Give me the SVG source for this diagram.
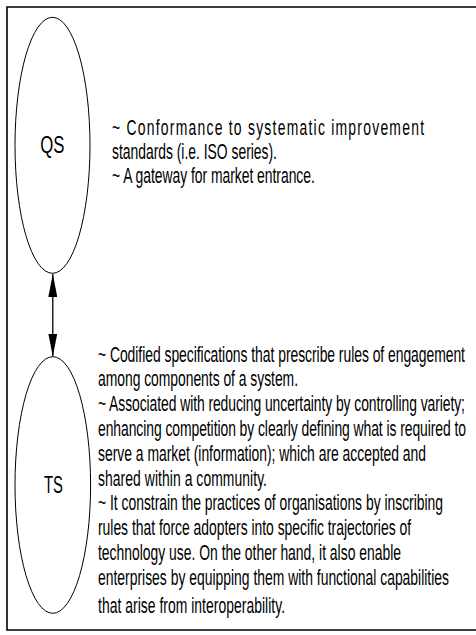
<svg xmlns="http://www.w3.org/2000/svg" width="476" height="635" viewBox="0 0 476 635">
  <style>
    .frame { fill: none; stroke: #000; stroke-width: 1.6; }
    .node { fill: #fff; stroke: #000; stroke-width: 1; }
    .label { font-family: "Liberation Sans", Arial, sans-serif; font-size: 24px; fill: #000; text-anchor: middle; }
    .body { font-family: "Liberation Sans", Arial, sans-serif; font-size: 22px; fill: #000; }
    .link { stroke: #000; stroke-width: 1.3; fill: none; }
  </style>
  <defs>
    <marker id="head" viewBox="0 0 23 9" refX="23" refY="4.5" markerWidth="23" markerHeight="9" markerUnits="userSpaceOnUse" orient="auto">
      <path d="M0,0 L23,4.5 L0,9 Z" fill="#000"/>
    </marker>
  </defs>

  <rect width="476" height="635" fill="#fff"/>
  <path class="frame" d="M476,7 H7 V630 H476"/>

  <!-- connector between the two standards -->
  <g id="connectors">
    <line class="link" x1="52.8" y1="290" x2="52.8" y2="274" marker-end="url(#head)"/>
    <line class="link" x1="52.8" y1="290" x2="52.8" y2="356.5" marker-end="url(#head)"/>
  </g>

  <!-- quality standards; body lines are set in a condensed face (x scaled 0.632) -->
  <g id="qs">
    <ellipse class="node" cx="52.5" cy="145.3" rx="37.5" ry="128"/>
    <text class="label" transform="translate(52.3,153) scale(0.7,1)" x="0" y="0">QS</text>
    <text class="body" transform="translate(112,135) scale(0.632,1)" textLength="493.7" lengthAdjust="spacing">~ Conformance to systematic improvement</text>
    <text class="body" transform="translate(112,159) scale(0.632,1)" textLength="261" lengthAdjust="spacing">standards (i.e. ISO series).</text>
    <text class="body" transform="translate(112,183) scale(0.632,1)" textLength="321" lengthAdjust="spacing">~ A gateway for market entrance.</text>
  </g>

  <!-- technical standards -->
  <g id="ts">
    <ellipse class="node" cx="52.8" cy="485" rx="37.8" ry="128.3"/>
    <text class="label" transform="translate(53.5,493) scale(0.62,1)" x="0" y="0">TS</text>
    <text class="body" transform="translate(98,361.5) scale(0.632,1)" textLength="580.7" lengthAdjust="spacing">~ Codified specifications that prescribe rules of engagement</text>
    <text class="body" transform="translate(98,386.3) scale(0.632,1)" textLength="316.5" lengthAdjust="spacing">among components of a system.</text>
    <text class="body" transform="translate(98,411.1) scale(0.632,1)" textLength="580.7" lengthAdjust="spacing">~ Associated with reducing uncertainty by controlling variety;</text>
    <text class="body" transform="translate(98,435.9) scale(0.632,1)" textLength="582.3" lengthAdjust="spacing">enhancing competition by clearly defining what is required to</text>
    <text class="body" transform="translate(98,460.7) scale(0.632,1)" textLength="519" lengthAdjust="spacing">serve a market (information); which are accepted and</text>
    <text class="body" transform="translate(98,485.5) scale(0.632,1)" textLength="267.4" lengthAdjust="spacing">shared within a community.</text>
    <text class="body" transform="translate(98,510.3) scale(0.632,1)" textLength="545.9" lengthAdjust="spacing">~ It constrain the practices of organisations by inscribing</text>
    <text class="body" transform="translate(98,535.1) scale(0.632,1)" textLength="495.3" lengthAdjust="spacing">rules that force adopters into specific trajectories of</text>
    <text class="body" transform="translate(98,559.9) scale(0.632,1)" textLength="479.4" lengthAdjust="spacing">technology use. On the other hand, it also enable</text>
    <text class="body" transform="translate(98,584.7) scale(0.632,1)" textLength="555.4" lengthAdjust="spacing">enterprises by equipping them with functional capabilities</text>
    <text class="body" transform="translate(98,613) scale(0.632,1)" textLength="295.9" lengthAdjust="spacing">that arise from interoperability.</text>
  </g>
</svg>
